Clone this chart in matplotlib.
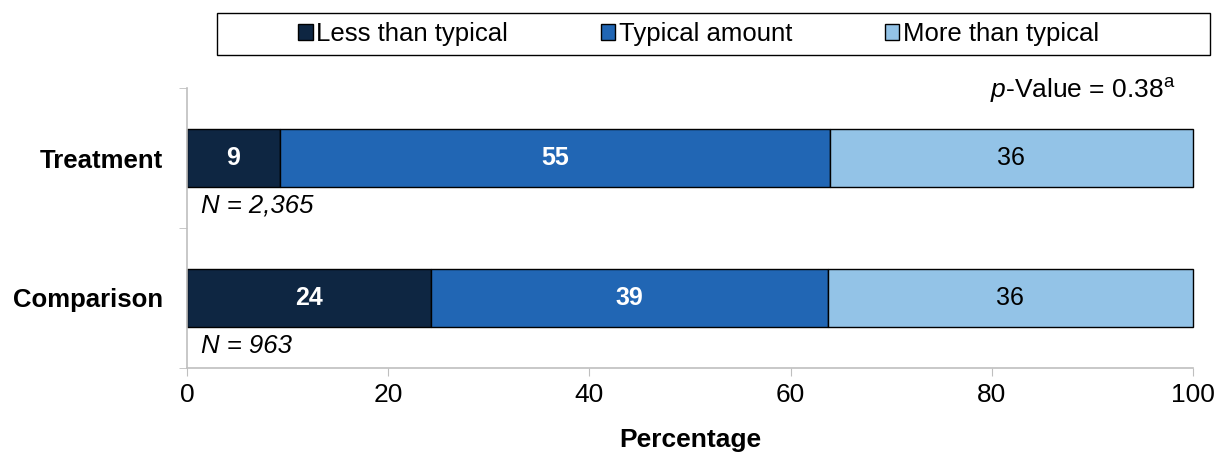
import matplotlib
matplotlib.use("Agg")
import matplotlib.pyplot as plt
from matplotlib.patches import Rectangle
import numpy as np

plt.rcParams['font.family'] = ['Liberation Sans', 'DejaVu Sans']
plt.rcParams['mathtext.fontset'] = 'custom'
plt.rcParams['mathtext.rm'] = 'Liberation Sans'
plt.rcParams['mathtext.it'] = 'Liberation Sans:italic'

groups = ["Treatment", "Comparison"]
sample_sizes = ["2,365", "963"]
categories = ["Less than typical", "Typical amount", "More than typical"]
less = [9.2, 24.3]
typical = [54.7, 39.4]
more = [36.1, 36.3]
labels_less = ["9", "24"]
labels_typical = ["55", "39"]
labels_more = ["36", "36"]

colors = ["#0e2642", "#2166b4", "#93c3e7"]
text_colors = ["white", "white", "black"]
text_weights = ["bold", "bold", "normal"]

fig = plt.figure(figsize=(12.17, 4.55), dpi=100)
ax = fig.add_axes([187/1217, 1-368/455, (1193-187)/1217, 280/455])

y = np.arange(len(groups))
left = np.zeros(len(groups))
series = [less, typical, more]
series_labels = [labels_less, labels_typical, labels_more]
handles = []
for i, vals in enumerate(series):
    bars = ax.barh(y, vals, left=left, height=0.41, color=colors[i],
                   edgecolor="black", linewidth=1.0, label=categories[i],
                   clip_on=False)
    handles.append(bars)
    for j, b in enumerate(bars):
        ax.text(left[j] + vals[j]/2, y[j], series_labels[i][j],
                ha="center", va="center", fontsize=18,
                color=text_colors[i], fontweight=text_weights[i])
    left = left + np.array(vals)

for j, n in enumerate(sample_sizes):
    ax.text(1.4, y[j] + 0.34, "N = " + n, ha="left", va="center",
            fontsize=18.5, fontstyle="italic")

ax.text(98.3, -0.48, r"$p$-Value = 0.38$^{\rm a}$", ha="right", va="center",
        fontsize=19)

ax.set_xlim(0, 100)
ax.set_ylim(1.5, -0.5)
ax.set_xticks([0, 20, 40, 60, 80, 100])
ax.set_yticks(y)
ax.set_yticklabels(groups, fontsize=18.5, fontweight="bold")
ax.set_yticks([-0.5, 0.5, 1.5], minor=True)
ax.tick_params(axis="y", which="major", length=0, pad=17)
ax.tick_params(axis="y", which="minor", length=6, color="#bfbfbf")
ax.tick_params(axis="x", length=6, color="#bfbfbf", labelsize=19, pad=5)
for s in ["top", "right"]:
    ax.spines[s].set_visible(False)
for s in ["left", "bottom"]:
    ax.spines[s].set_color("#bfbfbf")
    ax.spines[s].set_linewidth(1.2)

ax.set_xlabel("Percentage", fontsize=19, fontweight="bold", labelpad=15)

fig.patches.append(Rectangle((217/1217, 1-55/455), (1210-217)/1217, 42/455,
                             transform=fig.transFigure, fill=False,
                             edgecolor="black", linewidth=1.0))
fig.legend(handles=handles, labels=categories, loc="center",
           bbox_to_anchor=(0.574, 1-34/455), ncol=3, frameon=False,
           fontsize=18.5, handlelength=0.55, handleheight=0.55, handletextpad=0.15,
           columnspacing=3.6)

fig.savefig("out.png", dpi=100)
